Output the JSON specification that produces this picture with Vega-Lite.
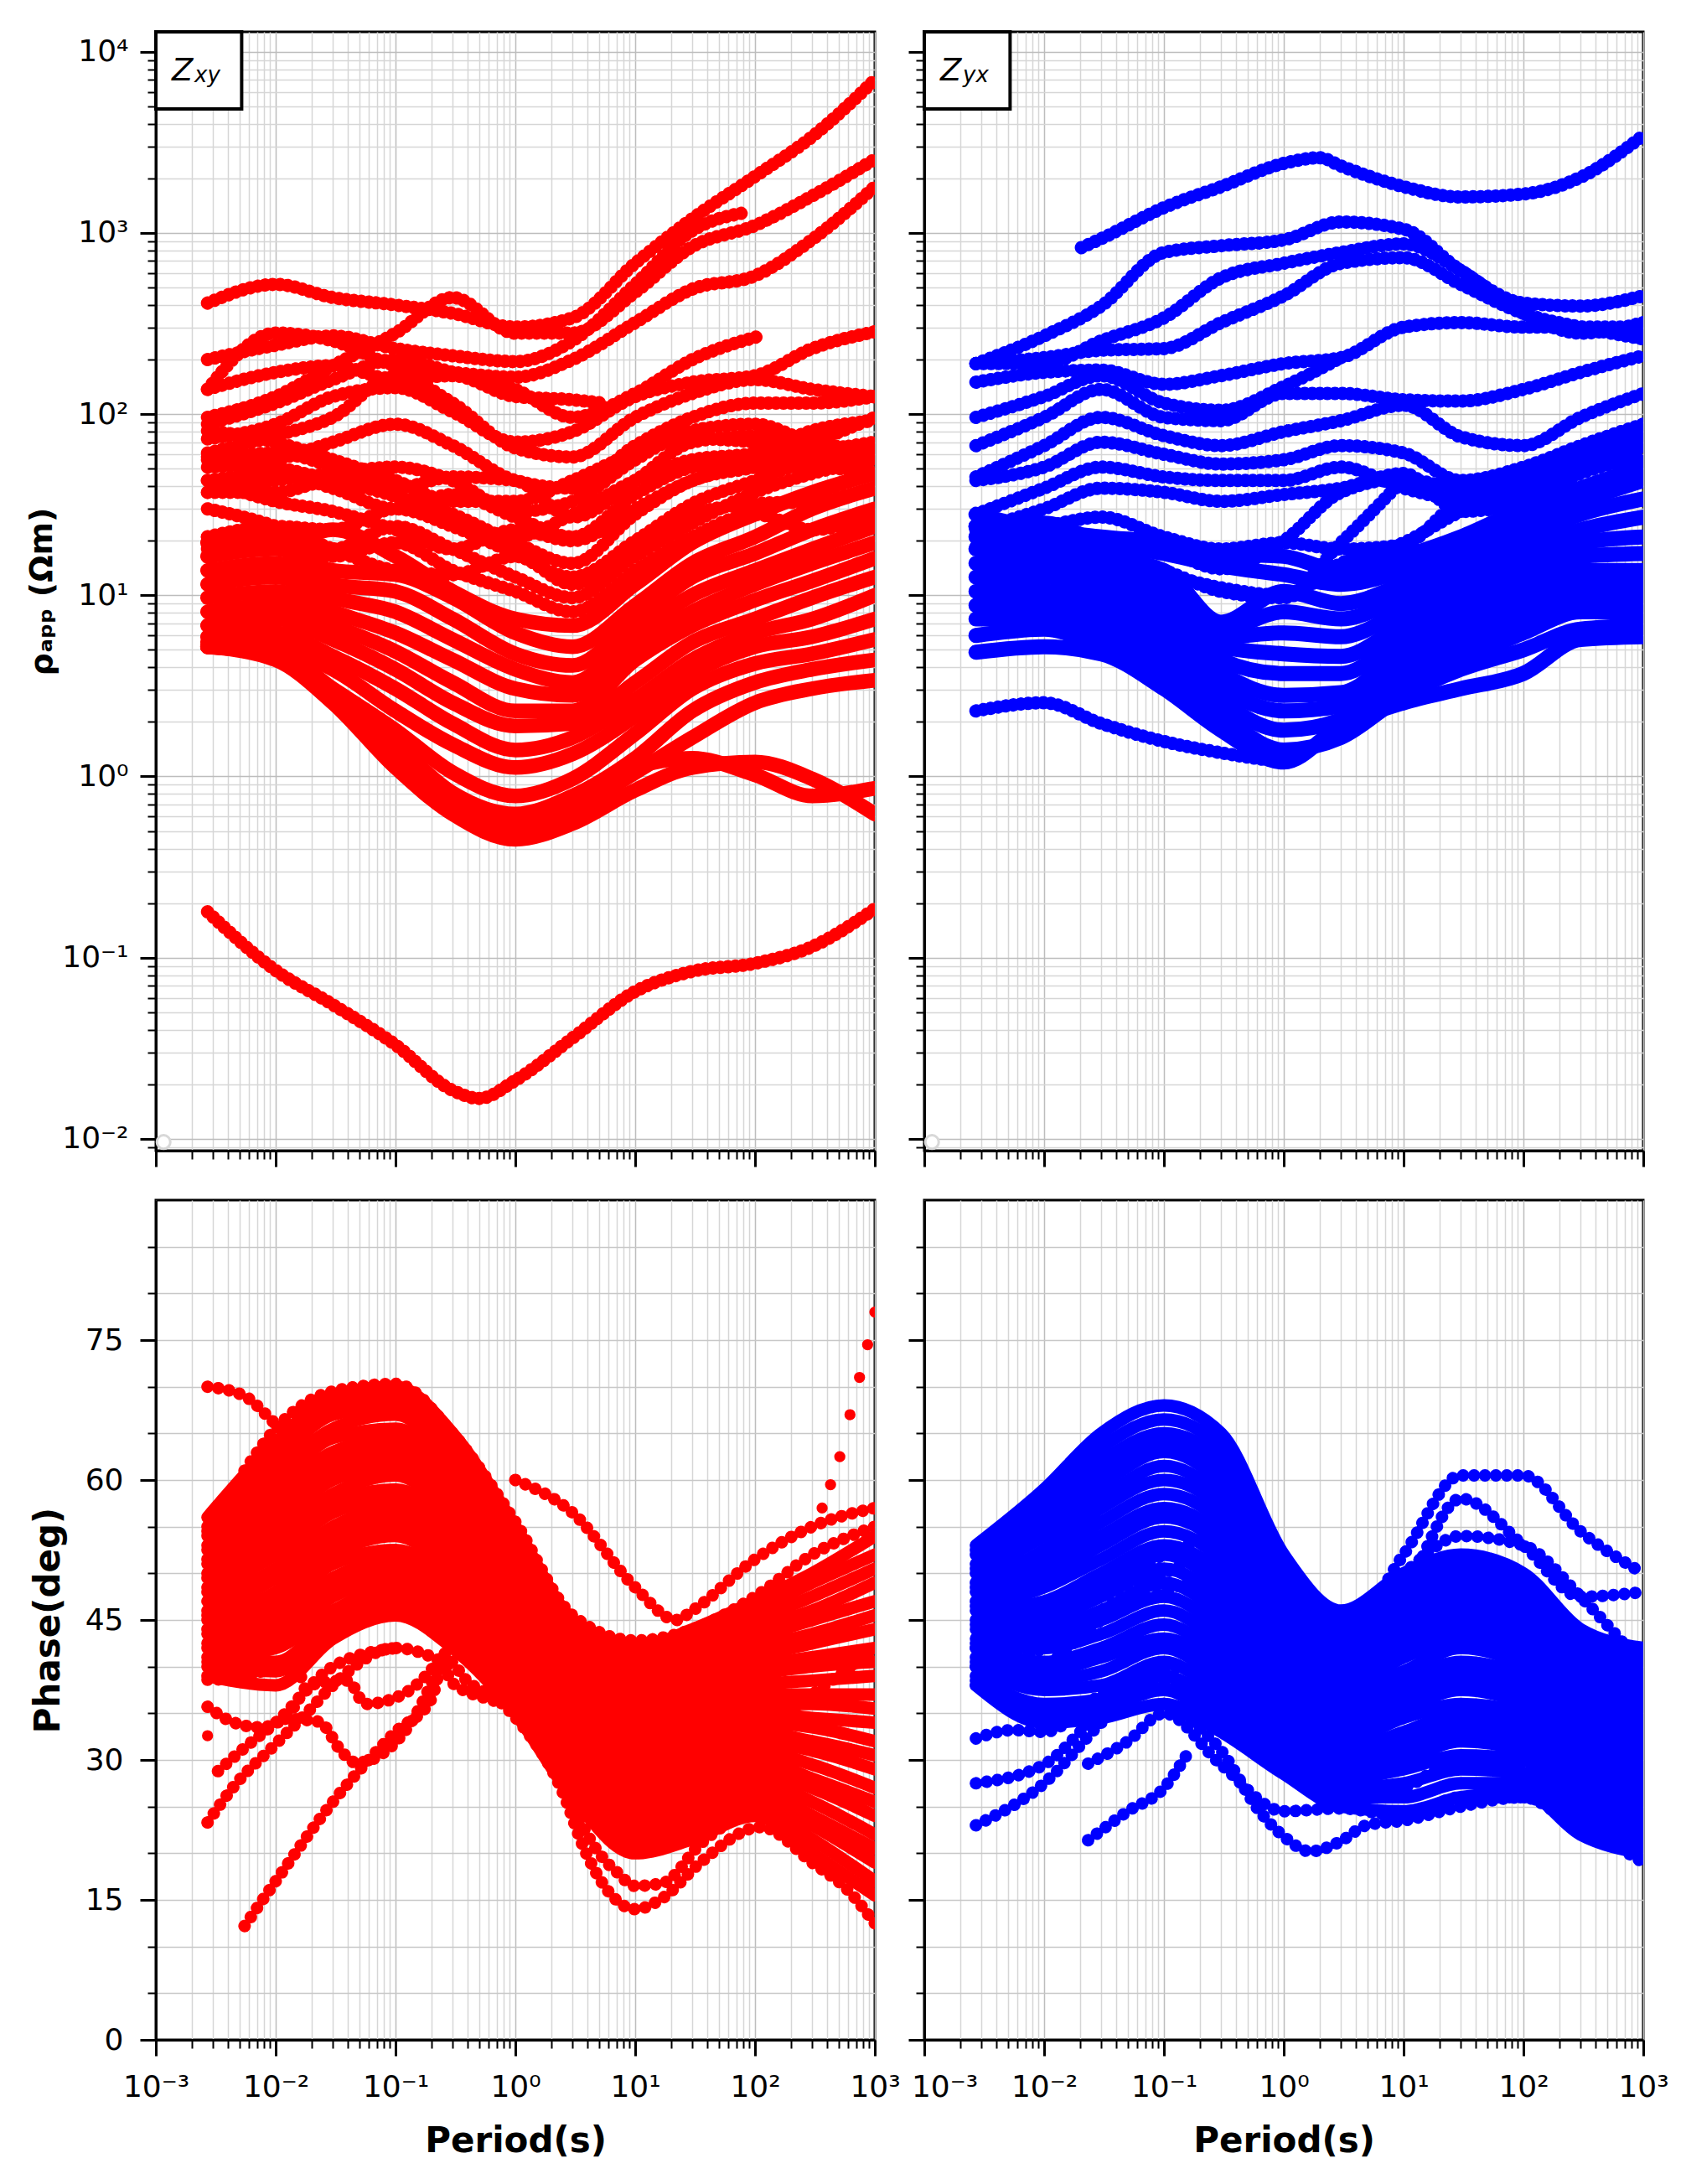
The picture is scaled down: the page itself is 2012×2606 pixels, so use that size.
{"$schema":"https://vega.github.io/schema/vega-lite/v6.json","background":"white","padding":{"left":30,"top":34,"right":0,"bottom":0},
"config":{"view":{"stroke":"black","strokeWidth":3},"axis":{"tickColor":"black","domainColor":"black","domainWidth":3,"labelFont":"DejaVu Sans","labelFontSize":36,"labelColor":"black","titleFont":"DejaVu Sans","titleFontSize":42,"titleFontWeight":"bold","titleColor":"black","labelOverlap":false,"labelFlush":false,"labelBound":false,"labelPadding":14}},
"datasets":{
"box":[{"t":0.001,"t2":0.0052,"v":4840,"v2":12880}],
"zxy":[{"t":0.00136,"v":6960,"label":"Z"}],"subxy":[{"t":0.0021,"v":6800,"label":"xy"}],"subyx":[{"t":0.0021,"v":6800,"label":"yx"}],
"art":[{"t":0.00116,"v":0.0096}],
"rhoXY":[
{"c":1,"t":0.0027,"v":410},{"c":1,"t":0.01,"v":520},{"c":1,"t":0.03,"v":440},{"c":1,"t":0.1,"v":400},{"c":1,"t":0.3,"v":360},{"c":1,"t":1,"v":302},{"c":1,"t":3,"v":340},{"c":1,"t":10,"v":680},{"c":1,"t":30,"v":1200},{"c":1,"t":100,"v":2050},{"c":1,"t":300,"v":3400},{"c":1,"t":1000,"v":7000},
{"c":2,"t":0.0027,"v":200},{"c":2,"t":0.01,"v":240},{"c":2,"t":0.03,"v":270},{"c":2,"t":0.1,"v":230},{"c":2,"t":0.3,"v":210},{"c":2,"t":1,"v":195},{"c":2,"t":3,"v":254},{"c":2,"t":10,"v":520},{"c":2,"t":30,"v":1030},{"c":2,"t":85,"v":1300},
{"c":3,"t":0.0027,"v":96},{"c":3,"t":0.01,"v":125},{"c":3,"t":0.03,"v":185},{"c":3,"t":0.1,"v":280},{"c":3,"t":0.3,"v":440},{"c":3,"t":1,"v":280},{"c":3,"t":3,"v":280},{"c":3,"t":10,"v":470},{"c":3,"t":30,"v":840},{"c":3,"t":100,"v":1100},{"c":3,"t":300,"v":1600},{"c":3,"t":1000,"v":2550},
{"c":4,"t":0.0027,"v":137},{"c":4,"t":0.01,"v":280},{"c":4,"t":0.03,"v":254},{"c":4,"t":0.1,"v":185},{"c":4,"t":0.3,"v":170},{"c":4,"t":1,"v":160},{"c":4,"t":3,"v":200},{"c":4,"t":10,"v":320},{"c":4,"t":30,"v":490},{"c":4,"t":100,"v":580},{"c":4,"t":300,"v":920},{"c":4,"t":1000,"v":1800},
{"c":5,"t":0.0027,"v":137},{"c":5,"t":0.01,"v":170},{"c":5,"t":0.03,"v":185},{"c":5,"t":0.1,"v":155},{"c":5,"t":0.3,"v":163},{"c":5,"t":1,"v":125},{"c":5,"t":3,"v":120},{"c":5,"t":5.4,"v":115},
{"c":6,"t":0.0027,"v":88},{"c":6,"t":0.01,"v":115},{"c":6,"t":0.03,"v":155},{"c":6,"t":0.1,"v":200},{"c":6,"t":0.3,"v":170},{"c":6,"t":1,"v":137},{"c":6,"t":3,"v":96},{"c":6,"t":10,"v":130},{"c":6,"t":30,"v":200},{"c":6,"t":110,"v":270},
{"c":7,"t":0.0027,"v":73},{"c":7,"t":0.01,"v":88},{"c":7,"t":0.03,"v":125},{"c":7,"t":0.1,"v":140},{"c":7,"t":0.3,"v":103},{"c":7,"t":1,"v":70},{"c":7,"t":3,"v":80},{"c":7,"t":10,"v":125},{"c":7,"t":30,"v":150},{"c":7,"t":100,"v":163},{"c":7,"t":300,"v":230},{"c":7,"t":1000,"v":285},
{"c":8,"t":0.0027,"v":61},{"c":8,"t":0.01,"v":76},{"c":8,"t":0.03,"v":96},{"c":8,"t":0.1,"v":163},{"c":8,"t":0.3,"v":115},{"c":8,"t":1,"v":65},{"c":8,"t":3,"v":58},{"c":8,"t":10,"v":96},{"c":8,"t":30,"v":130},{"c":8,"t":100,"v":155},{"c":8,"t":300,"v":137},{"c":8,"t":1000,"v":125},
{"c":9,"t":0.0027,"v":51},{"c":9,"t":0.01,"v":56},{"c":9,"t":0.03,"v":70},{"c":9,"t":0.1,"v":88},{"c":9,"t":0.3,"v":67},{"c":9,"t":1,"v":43},{"c":9,"t":3,"v":39},{"c":9,"t":10,"v":67},{"c":9,"t":30,"v":96},{"c":9,"t":100,"v":115},{"c":9,"t":300,"v":115},{"c":9,"t":1000,"v":125},
{"c":10,"t":0.0027,"v":37},{"c":10,"t":0.01,"v":43},{"c":10,"t":0.03,"v":47},{"c":10,"t":0.1,"v":51},{"c":10,"t":0.3,"v":43},{"c":10,"t":1,"v":29},{"c":10,"t":3,"v":33},{"c":10,"t":10,"v":56},{"c":10,"t":30,"v":81},{"c":10,"t":100,"v":88},{"c":10,"t":300,"v":70},{"c":10,"t":1000,"v":64},
{"c":11,"t":0.0027,"v":37},{"c":11,"t":0.01,"v":37},{"c":11,"t":0.03,"v":43},{"c":11,"t":0.1,"v":39},{"c":11,"t":0.3,"v":45},{"c":11,"t":1,"v":43},{"c":11,"t":3,"v":27},{"c":11,"t":10,"v":43},{"c":11,"t":30,"v":70},{"c":11,"t":100,"v":76},{"c":11,"t":300,"v":58},{"c":11,"t":1000,"v":47},
{"c":12,"t":0.0027,"v":43},{"c":12,"t":0.01,"v":47},{"c":12,"t":0.03,"v":39},{"c":12,"t":0.1,"v":30},{"c":12,"t":0.3,"v":36},{"c":12,"t":1,"v":27},{"c":12,"t":3,"v":21},{"c":12,"t":10,"v":36},{"c":12,"t":30,"v":51},{"c":12,"t":100,"v":56},{"c":12,"t":300,"v":70},{"c":12,"t":1000,"v":96},
{"c":13,"t":0.0027,"v":56},{"c":13,"t":0.01,"v":61},{"c":13,"t":0.03,"v":51},{"c":13,"t":0.1,"v":36},{"c":13,"t":0.3,"v":28},{"c":13,"t":1,"v":19.5},{"c":13,"t":3,"v":15},{"c":13,"t":10,"v":28},{"c":13,"t":30,"v":43},{"c":13,"t":100,"v":51},{"c":13,"t":300,"v":61},{"c":13,"t":1000,"v":70},
{"c":14,"t":0.0027,"v":21},{"c":14,"t":0.01,"v":24},{"c":14,"t":0.03,"v":23},{"c":14,"t":0.1,"v":30},{"c":14,"t":0.3,"v":24},{"c":14,"t":1,"v":17},{"c":14,"t":3,"v":12.6},{"c":14,"t":10,"v":20},{"c":14,"t":30,"v":32},{"c":14,"t":100,"v":43},{"c":14,"t":300,"v":56},{"c":14,"t":1000,"v":66},
{"c":15,"t":0.0027,"v":21},{"c":15,"t":0.01,"v":21},{"c":15,"t":0.03,"v":18},{"c":15,"t":0.1,"v":24},{"c":15,"t":0.3,"v":18},{"c":15,"t":1,"v":12.6},{"c":15,"t":3,"v":9.7},{"c":15,"t":10,"v":16.4},{"c":15,"t":30,"v":25},{"c":15,"t":100,"v":37},{"c":15,"t":300,"v":47},{"c":15,"t":1000,"v":56},
{"c":16,"t":0.0027,"v":19.5},{"c":16,"t":0.01,"v":18.5},{"c":16,"t":0.03,"v":23},{"c":16,"t":0.1,"v":16.4},{"c":16,"t":0.3,"v":10.5},{"c":16,"t":1,"v":7.4},{"c":16,"t":3,"v":6.8},{"c":16,"t":10,"v":11.5},{"c":16,"t":30,"v":19.5},{"c":16,"t":100,"v":28},{"c":16,"t":300,"v":37},{"c":16,"t":1000,"v":47},
{"c":17,"t":0.0027,"v":16.4},{"c":17,"t":0.01,"v":18},{"c":17,"t":0.03,"v":13.7},{"c":17,"t":0.1,"v":13},{"c":17,"t":0.3,"v":9.7},{"c":17,"t":1,"v":6.2},{"c":17,"t":3,"v":5.2},{"c":17,"t":10,"v":8.8},{"c":17,"t":30,"v":15},{"c":17,"t":100,"v":21},{"c":17,"t":300,"v":30},{"c":17,"t":1000,"v":39},
{"c":18,"t":0.0027,"v":13.7},{"c":18,"t":0.01,"v":15},{"c":18,"t":0.03,"v":11.5},{"c":18,"t":0.1,"v":10.5},{"c":18,"t":0.3,"v":7.4},{"c":18,"t":1,"v":4.75},{"c":18,"t":3,"v":4.1},{"c":18,"t":10,"v":7.4},{"c":18,"t":30,"v":12.6},{"c":18,"t":100,"v":17},{"c":18,"t":300,"v":23},{"c":18,"t":1000,"v":30},
{"c":19,"t":0.0027,"v":11.5},{"c":19,"t":0.01,"v":12.6},{"c":19,"t":0.03,"v":9.7},{"c":19,"t":0.1,"v":8.1},{"c":19,"t":0.3,"v":5.7},{"c":19,"t":1,"v":3.9},{"c":19,"t":3,"v":3.3},{"c":19,"t":10,"v":6.2},{"c":19,"t":30,"v":10},{"c":19,"t":100,"v":13.7},{"c":19,"t":300,"v":18},{"c":19,"t":1000,"v":24},
{"c":20,"t":0.0027,"v":9.7},{"c":20,"t":0.01,"v":10.5},{"c":20,"t":0.03,"v":8.1},{"c":20,"t":0.1,"v":6.2},{"c":20,"t":0.3,"v":4.4},{"c":20,"t":1,"v":3.05},{"c":20,"t":3,"v":2.8},{"c":20,"t":10,"v":5.2},{"c":20,"t":30,"v":8.1},{"c":20,"t":100,"v":11.5},{"c":20,"t":300,"v":15},{"c":20,"t":1000,"v":19.5},
{"c":21,"t":0.0027,"v":8.1},{"c":21,"t":0.01,"v":8.8},{"c":21,"t":0.03,"v":6.8},{"c":21,"t":0.1,"v":4.9},{"c":21,"t":0.3,"v":3.3},{"c":21,"t":1,"v":2.3},{"c":21,"t":3,"v":2.3},{"c":21,"t":10,"v":4.4},{"c":21,"t":30,"v":6.8},{"c":21,"t":100,"v":9.4},{"c":21,"t":300,"v":12},{"c":21,"t":1000,"v":16},
{"c":22,"t":0.0027,"v":6.8},{"c":22,"t":0.01,"v":7.4},{"c":22,"t":0.03,"v":5.7},{"c":22,"t":0.1,"v":3.9},{"c":22,"t":0.3,"v":2.55},{"c":22,"t":1,"v":1.9},{"c":22,"t":3,"v":1.96},{"c":22,"t":10,"v":3.3},{"c":22,"t":30,"v":5.5},{"c":22,"t":100,"v":7.4},{"c":22,"t":300,"v":9.7},{"c":22,"t":1000,"v":12.6},
{"c":23,"t":0.0027,"v":5.9},{"c":23,"t":0.01,"v":6.2},{"c":23,"t":0.03,"v":4.6},{"c":23,"t":0.1,"v":3.05},{"c":23,"t":0.3,"v":1.96},{"c":23,"t":1,"v":1.4},{"c":23,"t":3,"v":1.64},{"c":23,"t":10,"v":2.65},{"c":23,"t":30,"v":4.4},{"c":23,"t":100,"v":6.2},{"c":23,"t":300,"v":7.4},{"c":23,"t":1000,"v":10},
{"c":24,"t":0.0027,"v":5.2},{"c":24,"t":0.01,"v":5.2},{"c":24,"t":0.03,"v":3.9},{"c":24,"t":0.1,"v":2.3},{"c":24,"t":0.3,"v":1.5},{"c":24,"t":1,"v":1.12},{"c":24,"t":3,"v":1.33},{"c":24,"t":10,"v":2.15},{"c":24,"t":30,"v":3.7},{"c":24,"t":100,"v":5.2},{"c":24,"t":300,"v":5.9},{"c":24,"t":1000,"v":7.4},
{"c":25,"t":0.0027,"v":5.2},{"c":25,"t":0.01,"v":4.9},{"c":25,"t":0.03,"v":3.05},{"c":25,"t":0.1,"v":1.8},{"c":25,"t":0.3,"v":1.05},{"c":25,"t":1,"v":0.78},{"c":25,"t":3,"v":0.97},{"c":25,"t":10,"v":1.72},{"c":25,"t":30,"v":3.05},{"c":25,"t":100,"v":4.2},{"c":25,"t":300,"v":4.75},{"c":25,"t":1000,"v":5.7},
{"c":26,"t":0.0027,"v":5.5},{"c":26,"t":0.01,"v":4.75},{"c":26,"t":0.03,"v":2.8},{"c":26,"t":0.1,"v":1.5},{"c":26,"t":0.3,"v":0.81},{"c":26,"t":1,"v":0.62},{"c":26,"t":3,"v":0.78},{"c":26,"t":10,"v":1.26},{"c":26,"t":30,"v":2.3},{"c":26,"t":100,"v":3.3},{"c":26,"t":300,"v":3.9},{"c":26,"t":1000,"v":4.4},
{"c":27,"t":0.0027,"v":5.2},{"c":27,"t":0.01,"v":4.6},{"c":27,"t":0.03,"v":2.65},{"c":27,"t":0.1,"v":1.26},{"c":27,"t":0.3,"v":0.7},{"c":27,"t":1,"v":0.55},{"c":27,"t":3,"v":0.66},{"c":27,"t":10,"v":1.05},{"c":27,"t":30,"v":1.64},{"c":27,"t":100,"v":2.55},{"c":27,"t":300,"v":3.05},{"c":27,"t":1000,"v":3.4},
{"c":28,"t":0.0027,"v":5.2},{"c":28,"t":0.01,"v":4.4},{"c":28,"t":0.03,"v":2.55},{"c":28,"t":0.1,"v":1.12},{"c":28,"t":0.3,"v":0.62},{"c":28,"t":1,"v":0.45},{"c":28,"t":3,"v":0.55},{"c":28,"t":10,"v":0.84},{"c":28,"t":30,"v":1.12},{"c":28,"t":100,"v":1.2},{"c":28,"t":300,"v":0.97},{"c":28,"t":1000,"v":0.62},
{"c":29,"t":0.0027,"v":5.2},{"c":29,"t":0.01,"v":4.6},{"c":29,"t":0.03,"v":2.8},{"c":29,"t":0.1,"v":1.26},{"c":29,"t":0.3,"v":0.7},{"c":29,"t":1,"v":0.52},{"c":29,"t":3,"v":0.62},{"c":29,"t":10,"v":1.12},{"c":29,"t":30,"v":1.26},{"c":29,"t":100,"v":1.02},{"c":29,"t":300,"v":0.78},{"c":29,"t":1000,"v":0.86},
{"c":30,"t":0.0027,"v":0.179},{"c":30,"t":0.01,"v":0.085},{"c":30,"t":0.03,"v":0.055},{"c":30,"t":0.1,"v":0.033},{"c":30,"t":0.3,"v":0.0185},{"c":30,"t":0.5,"v":0.0167},{"c":30,"t":1,"v":0.021},{"c":30,"t":3,"v":0.036},{"c":30,"t":10,"v":0.065},{"c":30,"t":30,"v":0.084},{"c":30,"t":100,"v":0.093},{"c":30,"t":300,"v":0.115},{"c":30,"t":1000,"v":0.186},
{"c":31,"t":0.0027,"v":81},{"c":31,"t":0.01,"v":70},{"c":31,"t":0.03,"v":56},{"c":31,"t":0.1,"v":43},{"c":31,"t":0.3,"v":33},{"c":31,"t":1,"v":33},{"c":31,"t":3,"v":43},{"c":31,"t":10,"v":61},{"c":31,"t":30,"v":73},{"c":31,"t":100,"v":70},{"c":31,"t":300,"v":61},{"c":31,"t":1000,"v":56},
{"c":32,"t":0.0027,"v":58},{"c":32,"t":0.01,"v":51},{"c":32,"t":0.03,"v":43},{"c":32,"t":0.1,"v":35},{"c":32,"t":0.3,"v":25},{"c":32,"t":1,"v":21},{"c":32,"t":3,"v":28},{"c":32,"t":10,"v":43},{"c":32,"t":30,"v":56},{"c":32,"t":100,"v":61},{"c":32,"t":300,"v":81},{"c":32,"t":1000,"v":92},
{"c":33,"t":0.0027,"v":43},{"c":33,"t":0.01,"v":33},{"c":33,"t":0.03,"v":29},{"c":33,"t":0.1,"v":23},{"c":33,"t":0.3,"v":18},{"c":33,"t":1,"v":23},{"c":33,"t":3,"v":20},{"c":33,"t":10,"v":30},{"c":33,"t":30,"v":43},{"c":33,"t":100,"v":51},{"c":33,"t":300,"v":51},{"c":33,"t":1000,"v":47},
{"c":34,"t":0.0027,"v":30},{"c":34,"t":0.01,"v":24},{"c":34,"t":0.03,"v":18},{"c":34,"t":0.1,"v":13.7},{"c":34,"t":0.3,"v":13},{"c":34,"t":1,"v":16.4},{"c":34,"t":3,"v":11.5},{"c":34,"t":10,"v":18},{"c":34,"t":30,"v":28},{"c":34,"t":100,"v":32},{"c":34,"t":300,"v":33},{"c":34,"t":1000,"v":39},
{"c":35,"t":0.0027,"v":18},{"c":35,"t":0.01,"v":20},{"c":35,"t":0.03,"v":16.4},{"c":35,"t":0.1,"v":19.5},{"c":35,"t":0.3,"v":13.7},{"c":35,"t":1,"v":10.5},{"c":35,"t":3,"v":8.1},{"c":35,"t":10,"v":13.7},{"c":35,"t":30,"v":21},{"c":35,"t":100,"v":28},{"c":35,"t":300,"v":23},{"c":35,"t":1000,"v":28}
],
"rhoYX":[
{"c":1,"t":0.0205,"v":830},{"c":1,"t":0.03,"v":930},{"c":1,"t":0.1,"v":1380},{"c":1,"t":0.3,"v":1800},{"c":1,"t":1,"v":2420},{"c":1,"t":2,"v":2600},{"c":1,"t":3,"v":2340},{"c":1,"t":10,"v":1800},{"c":1,"t":30,"v":1580},{"c":1,"t":100,"v":1640},{"c":1,"t":300,"v":2030},{"c":1,"t":1000,"v":3450},
{"c":2,"t":0.0027,"v":190},{"c":2,"t":0.01,"v":270},{"c":2,"t":0.03,"v":395},{"c":2,"t":0.1,"v":780},{"c":2,"t":0.3,"v":850},{"c":2,"t":1,"v":915},{"c":2,"t":3,"v":1150},{"c":2,"t":10,"v":1050},{"c":2,"t":30,"v":620},{"c":2,"t":100,"v":410},{"c":2,"t":300,"v":395},{"c":2,"t":1000,"v":450},
{"c":3,"t":0.0027,"v":190},{"c":3,"t":0.01,"v":190},{"c":3,"t":0.03,"v":254},{"c":3,"t":0.1,"v":340},{"c":3,"t":0.3,"v":565},{"c":3,"t":1,"v":680},{"c":3,"t":3,"v":780},{"c":3,"t":10,"v":870},{"c":3,"t":30,"v":620},{"c":3,"t":100,"v":360},{"c":3,"t":300,"v":280},{"c":3,"t":1000,"v":320},
{"c":4,"t":0.0027,"v":190},{"c":4,"t":0.01,"v":205},{"c":4,"t":0.03,"v":225},{"c":4,"t":0.1,"v":230},{"c":4,"t":0.3,"v":320},{"c":4,"t":1,"v":450},{"c":4,"t":3,"v":680},{"c":4,"t":10,"v":730},{"c":4,"t":30,"v":520},{"c":4,"t":100,"v":360},{"c":4,"t":300,"v":302},{"c":4,"t":1000,"v":260},
{"c":5,"t":0.0027,"v":150},{"c":5,"t":0.01,"v":170},{"c":5,"t":0.03,"v":175},{"c":5,"t":0.1,"v":146},{"c":5,"t":0.3,"v":163},{"c":5,"t":1,"v":190},{"c":5,"t":3,"v":205},{"c":5,"t":10,"v":302},{"c":5,"t":30,"v":320},{"c":5,"t":100,"v":302},{"c":5,"t":300,"v":302},{"c":5,"t":1000,"v":302},
{"c":6,"t":0.0027,"v":96},{"c":6,"t":0.01,"v":125},{"c":6,"t":0.03,"v":163},{"c":6,"t":0.1,"v":115},{"c":6,"t":0.3,"v":105},{"c":6,"t":1,"v":142},{"c":6,"t":3,"v":205},
{"c":7,"t":0.0027,"v":67},{"c":7,"t":0.01,"v":96},{"c":7,"t":0.03,"v":137},{"c":7,"t":0.1,"v":96},{"c":7,"t":0.3,"v":92},{"c":7,"t":1,"v":130},{"c":7,"t":3,"v":130},{"c":7,"t":10,"v":120},{"c":7,"t":30,"v":118},{"c":7,"t":100,"v":137},{"c":7,"t":300,"v":170},{"c":7,"t":1000,"v":210},
{"c":8,"t":0.0027,"v":45},{"c":8,"t":0.01,"v":67},{"c":8,"t":0.03,"v":96},{"c":8,"t":0.1,"v":76},{"c":8,"t":0.3,"v":67},{"c":8,"t":1,"v":80},{"c":8,"t":3,"v":92},{"c":8,"t":10,"v":112},{"c":8,"t":30,"v":75},{"c":8,"t":100,"v":67},{"c":8,"t":300,"v":96},{"c":8,"t":1000,"v":130},
{"c":9,"t":0.0027,"v":43},{"c":9,"t":0.01,"v":51},{"c":9,"t":0.03,"v":70},{"c":9,"t":0.1,"v":60},{"c":9,"t":0.3,"v":53},{"c":9,"t":1,"v":56},{"c":9,"t":3,"v":67},{"c":9,"t":10,"v":61},{"c":9,"t":30,"v":43},{"c":9,"t":100,"v":51},{"c":9,"t":300,"v":67},{"c":9,"t":1000,"v":88},
{"c":10,"t":0.0027,"v":28},{"c":10,"t":0.01,"v":39},{"c":10,"t":0.03,"v":51},{"c":10,"t":0.1,"v":45},{"c":10,"t":0.3,"v":43},{"c":10,"t":1,"v":43},{"c":10,"t":3,"v":51},{"c":10,"t":10,"v":39},{"c":10,"t":30,"v":34},{"c":10,"t":100,"v":47},{"c":10,"t":300,"v":61},{"c":10,"t":1000,"v":73},
{"c":11,"t":0.0027,"v":23},{"c":11,"t":0.01,"v":30},{"c":11,"t":0.03,"v":39},{"c":11,"t":0.1,"v":37},{"c":11,"t":0.3,"v":33},{"c":11,"t":1,"v":36},{"c":11,"t":3,"v":39},{"c":11,"t":10,"v":47},{"c":11,"t":30,"v":29},{"c":11,"t":100,"v":33},{"c":11,"t":300,"v":47},{"c":11,"t":1000,"v":58},
{"c":12,"t":0.0027,"v":21},{"c":12,"t":0.01,"v":24},{"c":12,"t":0.03,"v":27},{"c":12,"t":0.1,"v":21},{"c":12,"t":0.3,"v":18},{"c":12,"t":1,"v":19.5},{"c":12,"t":3,"v":18},{"c":12,"t":10,"v":19},{"c":12,"t":30,"v":32},{"c":12,"t":100,"v":34},{"c":12,"t":300,"v":51},{"c":12,"t":1000,"v":65},
{"c":13,"t":0.0027,"v":23},{"c":13,"t":0.01,"v":21},{"c":13,"t":0.03,"v":21},{"c":13,"t":0.1,"v":18},{"c":13,"t":0.3,"v":14},{"c":13,"t":1,"v":20},{"c":13,"t":3,"v":37},{"c":13,"t":10,"v":44},{"c":13,"t":30,"v":39},{"c":13,"t":100,"v":43},{"c":13,"t":300,"v":56},{"c":13,"t":1000,"v":81},
{"c":14,"t":0.0027,"v":18},{"c":14,"t":0.01,"v":17},{"c":14,"t":0.03,"v":15},{"c":14,"t":0.1,"v":13},{"c":14,"t":0.3,"v":11},{"c":14,"t":1,"v":10},{"c":14,"t":3,"v":19.5},{"c":14,"t":8.8,"v":40},
{"c":15,"t":0.0027,"v":18.5},{"c":15,"t":0.01,"v":18},{"c":15,"t":0.03,"v":16.4},{"c":15,"t":0.1,"v":13.7},{"c":15,"t":0.3,"v":10.5},{"c":15,"t":1,"v":9.7},{"c":15,"t":3,"v":15},{"c":15,"t":10,"v":19.5},{"c":15,"t":30,"v":29},{"c":15,"t":100,"v":39},{"c":15,"t":300,"v":53},{"c":15,"t":1000,"v":70},
{"c":16,"t":0.0027,"v":28},{"c":16,"t":0.01,"v":23},{"c":16,"t":0.03,"v":21},{"c":16,"t":0.1,"v":19.5},{"c":16,"t":0.3,"v":17},{"c":16,"t":1,"v":16.4},{"c":16,"t":3,"v":13.7},{"c":16,"t":10,"v":16.4},{"c":16,"t":30,"v":21},{"c":16,"t":100,"v":30},{"c":16,"t":300,"v":39},{"c":16,"t":1000,"v":51},
{"c":17,"t":0.0027,"v":24},{"c":17,"t":0.01,"v":25},{"c":17,"t":0.03,"v":19.5},{"c":17,"t":0.1,"v":17},{"c":17,"t":0.3,"v":14.5},{"c":17,"t":1,"v":13},{"c":17,"t":3,"v":11.5},{"c":17,"t":10,"v":13.7},{"c":17,"t":30,"v":18},{"c":17,"t":100,"v":25},{"c":17,"t":300,"v":33},{"c":17,"t":1000,"v":43},
{"c":18,"t":0.0027,"v":24},{"c":18,"t":0.01,"v":21},{"c":18,"t":0.03,"v":16.4},{"c":18,"t":0.1,"v":13.7},{"c":18,"t":0.3,"v":7.1},{"c":18,"t":1,"v":10.5},{"c":18,"t":3,"v":9},{"c":18,"t":10,"v":11.5},{"c":18,"t":30,"v":15},{"c":18,"t":100,"v":21},{"c":18,"t":300,"v":28},{"c":18,"t":1000,"v":34},
{"c":19,"t":0.0027,"v":21},{"c":19,"t":0.01,"v":19.5},{"c":19,"t":0.03,"v":15},{"c":19,"t":0.1,"v":11.5},{"c":19,"t":0.3,"v":6.5},{"c":19,"t":1,"v":8.1},{"c":19,"t":3,"v":7.4},{"c":19,"t":10,"v":9.7},{"c":19,"t":30,"v":12.6},{"c":19,"t":100,"v":18},{"c":19,"t":300,"v":23},{"c":19,"t":1000,"v":27},
{"c":20,"t":0.0027,"v":18},{"c":20,"t":0.01,"v":16.4},{"c":20,"t":0.03,"v":13.7},{"c":20,"t":0.1,"v":9.7},{"c":20,"t":0.3,"v":5.9},{"c":20,"t":1,"v":6.2},{"c":20,"t":3,"v":5.9},{"c":20,"t":10,"v":8.1},{"c":20,"t":30,"v":10.5},{"c":20,"t":100,"v":15},{"c":20,"t":300,"v":19.5},{"c":20,"t":1000,"v":21},
{"c":21,"t":0.0027,"v":15},{"c":21,"t":0.01,"v":14},{"c":21,"t":0.03,"v":12},{"c":21,"t":0.1,"v":8.1},{"c":21,"t":0.3,"v":5.2},{"c":21,"t":1,"v":4.75},{"c":21,"t":3,"v":4.6},{"c":21,"t":10,"v":6.8},{"c":21,"t":30,"v":8.8},{"c":21,"t":100,"v":12.6},{"c":21,"t":300,"v":16.4},{"c":21,"t":1000,"v":17},
{"c":22,"t":0.0027,"v":12.6},{"c":22,"t":0.01,"v":12.6},{"c":22,"t":0.03,"v":10.5},{"c":22,"t":0.1,"v":7.1},{"c":22,"t":0.3,"v":4.4},{"c":22,"t":1,"v":3.7},{"c":22,"t":3,"v":3.7},{"c":22,"t":10,"v":5.7},{"c":22,"t":30,"v":7.4},{"c":22,"t":100,"v":10.5},{"c":22,"t":300,"v":13.7},{"c":22,"t":1000,"v":13.7},
{"c":23,"t":0.0027,"v":10.5},{"c":23,"t":0.01,"v":10.5},{"c":23,"t":0.03,"v":8.8},{"c":23,"t":0.1,"v":6.2},{"c":23,"t":0.3,"v":3.7},{"c":23,"t":1,"v":2.8},{"c":23,"t":3,"v":2.9},{"c":23,"t":10,"v":4.75},{"c":23,"t":30,"v":6.2},{"c":23,"t":100,"v":8.8},{"c":23,"t":300,"v":11.5},{"c":23,"t":1000,"v":11.5},
{"c":24,"t":0.0027,"v":8.8},{"c":24,"t":0.01,"v":8.8},{"c":24,"t":0.03,"v":7.4},{"c":24,"t":0.1,"v":5.2},{"c":24,"t":0.3,"v":3.05},{"c":24,"t":1,"v":2.3},{"c":24,"t":3,"v":2.45},{"c":24,"t":10,"v":4},{"c":24,"t":30,"v":5.2},{"c":24,"t":100,"v":7.4},{"c":24,"t":300,"v":9.7},{"c":24,"t":1000,"v":9.7},
{"c":25,"t":0.0027,"v":7.4},{"c":25,"t":0.01,"v":7.4},{"c":25,"t":0.03,"v":6.2},{"c":25,"t":0.1,"v":4.4},{"c":25,"t":0.3,"v":2.55},{"c":25,"t":1,"v":1.8},{"c":25,"t":3,"v":2.05},{"c":25,"t":10,"v":3.3},{"c":25,"t":30,"v":4.4},{"c":25,"t":100,"v":6.2},{"c":25,"t":300,"v":8.1},{"c":25,"t":1000,"v":8.1},
{"c":26,"t":0.0027,"v":6},{"c":26,"t":0.01,"v":6.5},{"c":26,"t":0.03,"v":5.2},{"c":26,"t":0.1,"v":3.7},{"c":26,"t":0.3,"v":2.15},{"c":26,"t":1,"v":1.4},{"c":26,"t":3,"v":1.64},{"c":26,"t":10,"v":2.8},{"c":26,"t":30,"v":3.9},{"c":26,"t":100,"v":5},{"c":26,"t":300,"v":6.5},{"c":26,"t":1000,"v":6.8},
{"c":27,"t":0.0027,"v":4.85},{"c":27,"t":0.01,"v":5.2},{"c":27,"t":0.03,"v":4.75},{"c":27,"t":0.1,"v":3.05},{"c":27,"t":0.3,"v":1.8},{"c":27,"t":1,"v":1.2},{"c":27,"t":3,"v":1.9},{"c":27,"t":10,"v":2.55},{"c":27,"t":30,"v":3.05},{"c":27,"t":100,"v":3.7},{"c":27,"t":300,"v":5.7},{"c":27,"t":1000,"v":5.9},
{"c":28,"t":0.0027,"v":2.3},{"c":28,"t":0.01,"v":2.55},{"c":28,"t":0.03,"v":1.96},{"c":28,"t":0.1,"v":1.56},{"c":28,"t":0.3,"v":1.35},{"c":28,"t":1,"v":1.2}
],
"phaseXY":[
{"c":1,"t":0.0027,"v":56},{"c":1,"t":0.01,"v":64},{"c":1,"t":0.03,"v":69},{"c":1,"t":0.1,"v":70},{"c":1,"t":0.3,"v":65},{"c":1,"t":1,"v":55},{"c":1,"t":3,"v":45},{"c":1,"t":10,"v":42},{"c":1,"t":30,"v":44},{"c":1,"t":100,"v":47},{"c":1,"t":300,"v":50},{"c":1,"t":1000,"v":54},
{"c":2,"t":0.0027,"v":55},{"c":2,"t":0.01,"v":63},{"c":2,"t":0.03,"v":68},{"c":2,"t":0.1,"v":69},{"c":2,"t":0.3,"v":64},{"c":2,"t":1,"v":54},{"c":2,"t":3,"v":44},{"c":2,"t":10,"v":41},{"c":2,"t":30,"v":43},{"c":2,"t":100,"v":46},{"c":2,"t":300,"v":49},{"c":2,"t":1000,"v":52},
{"c":3,"t":0.0027,"v":54.5},{"c":3,"t":0.01,"v":62},{"c":3,"t":0.03,"v":67},{"c":3,"t":0.1,"v":68},{"c":3,"t":0.3,"v":63},{"c":3,"t":1,"v":53},{"c":3,"t":3,"v":43.5},{"c":3,"t":10,"v":40},{"c":3,"t":30,"v":42},{"c":3,"t":100,"v":45},{"c":3,"t":300,"v":47.5},{"c":3,"t":1000,"v":50.5},
{"c":4,"t":0.0027,"v":54},{"c":4,"t":0.01,"v":60.5},{"c":4,"t":0.03,"v":65.5},{"c":4,"t":0.1,"v":67},{"c":4,"t":0.3,"v":62},{"c":4,"t":1,"v":52.5},{"c":4,"t":3,"v":42.5},{"c":4,"t":10,"v":39},{"c":4,"t":30,"v":41},{"c":4,"t":100,"v":44},{"c":4,"t":300,"v":46},{"c":4,"t":1000,"v":49},
{"c":5,"t":0.0027,"v":53},{"c":5,"t":0.01,"v":59.5},{"c":5,"t":0.03,"v":64.5},{"c":5,"t":0.1,"v":65.5},{"c":5,"t":0.3,"v":61},{"c":5,"t":1,"v":51.5},{"c":5,"t":3,"v":41.5},{"c":5,"t":10,"v":38},{"c":5,"t":30,"v":40},{"c":5,"t":100,"v":43},{"c":5,"t":300,"v":45},{"c":5,"t":1000,"v":47},
{"c":6,"t":0.0027,"v":52.5},{"c":6,"t":0.01,"v":58.5},{"c":6,"t":0.03,"v":63},{"c":6,"t":0.1,"v":64.5},{"c":6,"t":0.3,"v":60},{"c":6,"t":1,"v":50.5},{"c":6,"t":3,"v":41},{"c":6,"t":10,"v":37},{"c":6,"t":30,"v":39},{"c":6,"t":100,"v":42},{"c":6,"t":300,"v":43.5},{"c":6,"t":1000,"v":45.5},
{"c":7,"t":0.0027,"v":51.5},{"c":7,"t":0.01,"v":57},{"c":7,"t":0.03,"v":62},{"c":7,"t":0.1,"v":63.5},{"c":7,"t":0.3,"v":59},{"c":7,"t":1,"v":49.5},{"c":7,"t":3,"v":40},{"c":7,"t":10,"v":36},{"c":7,"t":30,"v":38},{"c":7,"t":100,"v":41},{"c":7,"t":300,"v":42.5},{"c":7,"t":1000,"v":44},
{"c":8,"t":0.0027,"v":51},{"c":8,"t":0.01,"v":56},{"c":8,"t":0.03,"v":61},{"c":8,"t":0.1,"v":62.5},{"c":8,"t":0.3,"v":58},{"c":8,"t":1,"v":49},{"c":8,"t":3,"v":39},{"c":8,"t":10,"v":35},{"c":8,"t":30,"v":37},{"c":8,"t":100,"v":40},{"c":8,"t":300,"v":41},{"c":8,"t":1000,"v":42},
{"c":9,"t":0.0027,"v":50},{"c":9,"t":0.01,"v":55},{"c":9,"t":0.03,"v":60},{"c":9,"t":0.1,"v":61.5},{"c":9,"t":0.3,"v":57},{"c":9,"t":1,"v":48},{"c":9,"t":3,"v":38},{"c":9,"t":10,"v":34},{"c":9,"t":30,"v":36},{"c":9,"t":100,"v":39},{"c":9,"t":300,"v":40},{"c":9,"t":1000,"v":40.5},
{"c":10,"t":0.0027,"v":49.5},{"c":10,"t":0.01,"v":54},{"c":10,"t":0.03,"v":58.5},{"c":10,"t":0.1,"v":60.5},{"c":10,"t":0.3,"v":56},{"c":10,"t":1,"v":47},{"c":10,"t":3,"v":37.5},{"c":10,"t":10,"v":33},{"c":10,"t":30,"v":35},{"c":10,"t":100,"v":38},{"c":10,"t":300,"v":38.5},{"c":10,"t":1000,"v":39},
{"c":11,"t":0.0027,"v":48.5},{"c":11,"t":0.01,"v":53},{"c":11,"t":0.03,"v":57.5},{"c":11,"t":0.1,"v":59},{"c":11,"t":0.3,"v":55},{"c":11,"t":1,"v":46},{"c":11,"t":3,"v":36.5},{"c":11,"t":10,"v":32},{"c":11,"t":30,"v":34},{"c":11,"t":100,"v":37},{"c":11,"t":300,"v":37},{"c":11,"t":1000,"v":37},
{"c":12,"t":0.0027,"v":48},{"c":12,"t":0.01,"v":52},{"c":12,"t":0.03,"v":56.5},{"c":12,"t":0.1,"v":58},{"c":12,"t":0.3,"v":54},{"c":12,"t":1,"v":45},{"c":12,"t":3,"v":36},{"c":12,"t":10,"v":31},{"c":12,"t":30,"v":33},{"c":12,"t":100,"v":36},{"c":12,"t":300,"v":36},{"c":12,"t":1000,"v":35.5},
{"c":13,"t":0.0027,"v":47},{"c":13,"t":0.01,"v":50.5},{"c":13,"t":0.03,"v":55},{"c":13,"t":0.1,"v":57},{"c":13,"t":0.3,"v":53},{"c":13,"t":1,"v":44.5},{"c":13,"t":3,"v":35},{"c":13,"t":10,"v":30},{"c":13,"t":30,"v":32},{"c":13,"t":100,"v":35},{"c":13,"t":300,"v":34.5},{"c":13,"t":1000,"v":34},
{"c":14,"t":0.0027,"v":46},{"c":14,"t":0.01,"v":49.5},{"c":14,"t":0.03,"v":54},{"c":14,"t":0.1,"v":56},{"c":14,"t":0.3,"v":52},{"c":14,"t":1,"v":43.5},{"c":14,"t":3,"v":34},{"c":14,"t":10,"v":29},{"c":14,"t":30,"v":31},{"c":14,"t":100,"v":34},{"c":14,"t":300,"v":33.5},{"c":14,"t":1000,"v":32},
{"c":15,"t":0.0027,"v":45.5},{"c":15,"t":0.01,"v":48},{"c":15,"t":0.03,"v":53},{"c":15,"t":0.1,"v":55},{"c":15,"t":0.3,"v":51},{"c":15,"t":1,"v":42.5},{"c":15,"t":3,"v":33},{"c":15,"t":10,"v":28},{"c":15,"t":30,"v":30},{"c":15,"t":100,"v":33},{"c":15,"t":300,"v":32},{"c":15,"t":1000,"v":30.5},
{"c":16,"t":0.0027,"v":45},{"c":16,"t":0.01,"v":47},{"c":16,"t":0.03,"v":52},{"c":16,"t":0.1,"v":54},{"c":16,"t":0.3,"v":50},{"c":16,"t":1,"v":42},{"c":16,"t":3,"v":32.5},{"c":16,"t":10,"v":27},{"c":16,"t":30,"v":29},{"c":16,"t":100,"v":32},{"c":16,"t":300,"v":31},{"c":16,"t":1000,"v":29},
{"c":17,"t":0.0027,"v":44},{"c":17,"t":0.01,"v":46},{"c":17,"t":0.03,"v":51},{"c":17,"t":0.1,"v":52.5},{"c":17,"t":0.3,"v":49},{"c":17,"t":1,"v":41},{"c":17,"t":3,"v":31.5},{"c":17,"t":10,"v":26},{"c":17,"t":30,"v":28},{"c":17,"t":100,"v":31},{"c":17,"t":300,"v":29.5},{"c":17,"t":1000,"v":27},
{"c":18,"t":0.0027,"v":43.5},{"c":18,"t":0.01,"v":45},{"c":18,"t":0.03,"v":49.5},{"c":18,"t":0.1,"v":51.5},{"c":18,"t":0.3,"v":48},{"c":18,"t":1,"v":40},{"c":18,"t":3,"v":30.5},{"c":18,"t":10,"v":25},{"c":18,"t":30,"v":27},{"c":18,"t":100,"v":30},{"c":18,"t":300,"v":28},{"c":18,"t":1000,"v":25.5},
{"c":19,"t":0.0027,"v":42.5},{"c":19,"t":0.01,"v":44},{"c":19,"t":0.03,"v":48.5},{"c":19,"t":0.1,"v":50.5},{"c":19,"t":0.3,"v":47},{"c":19,"t":1,"v":39},{"c":19,"t":3,"v":30},{"c":19,"t":10,"v":24},{"c":19,"t":30,"v":26},{"c":19,"t":100,"v":29},{"c":19,"t":300,"v":27},{"c":19,"t":1000,"v":24},
{"c":20,"t":0.0027,"v":42},{"c":20,"t":0.01,"v":43},{"c":20,"t":0.03,"v":47.5},{"c":20,"t":0.1,"v":49.5},{"c":20,"t":0.3,"v":46},{"c":20,"t":1,"v":38},{"c":20,"t":3,"v":29},{"c":20,"t":10,"v":23},{"c":20,"t":30,"v":25},{"c":20,"t":100,"v":28},{"c":20,"t":300,"v":25.5},{"c":20,"t":1000,"v":22},
{"c":21,"t":0.0027,"v":41},{"c":21,"t":0.01,"v":42},{"c":21,"t":0.03,"v":46},{"c":21,"t":0.1,"v":48.5},{"c":21,"t":0.3,"v":45},{"c":21,"t":1,"v":37},{"c":21,"t":3,"v":28},{"c":21,"t":10,"v":22},{"c":21,"t":30,"v":24},{"c":21,"t":100,"v":27},{"c":21,"t":300,"v":24},{"c":21,"t":1000,"v":20.5},
{"c":22,"t":0.0027,"v":40.5},{"c":22,"t":0.01,"v":40.5},{"c":22,"t":0.03,"v":45},{"c":22,"t":0.1,"v":47.5},{"c":22,"t":0.3,"v":44},{"c":22,"t":1,"v":36},{"c":22,"t":3,"v":27},{"c":22,"t":10,"v":21},{"c":22,"t":30,"v":23},{"c":22,"t":100,"v":26},{"c":22,"t":300,"v":23},{"c":22,"t":1000,"v":19},
{"c":23,"t":0.0027,"v":40},{"c":23,"t":0.01,"v":39.5},{"c":23,"t":0.03,"v":44},{"c":23,"t":0.1,"v":46.5},{"c":23,"t":0.3,"v":43},{"c":23,"t":1,"v":35.5},{"c":23,"t":3,"v":26.5},{"c":23,"t":10,"v":20.5},{"c":23,"t":30,"v":22.5},{"c":23,"t":100,"v":25},{"c":23,"t":300,"v":21.5},{"c":23,"t":1000,"v":17},
{"c":24,"t":0.0027,"v":39},{"c":24,"t":0.01,"v":38},{"c":24,"t":0.03,"v":43},{"c":24,"t":0.1,"v":45.5},{"c":24,"t":0.3,"v":42},{"c":24,"t":1,"v":35},{"c":24,"t":3,"v":26},{"c":24,"t":10,"v":20},{"c":24,"t":30,"v":21.5},{"c":24,"t":100,"v":24},{"c":24,"t":300,"v":20},{"c":24,"t":1000,"v":15.5}
],
"phaseXYx":[
{"c":1,"t":0.0027,"v":70},{"c":1,"t":0.0055,"v":69},{"c":1,"t":0.01,"v":66},{"c":1,"t":0.03,"v":61},{"c":1,"t":0.1,"v":57},{"c":1,"t":0.3,"v":53},{"c":1,"t":1,"v":46},{"c":1,"t":3,"v":40},{"c":1,"t":10,"v":33},{"c":1,"t":30,"v":30},{"c":1,"t":100,"v":33},{"c":1,"t":300,"v":37},{"c":1,"t":1000,"v":42},
{"c":2,"t":0.0055,"v":61},{"c":2,"t":0.01,"v":65.5},{"c":2,"t":0.03,"v":69.5},{"c":2,"t":0.1,"v":70.3},{"c":2,"t":0.3,"v":65},{"c":2,"t":1,"v":55.5},{"c":2,"t":3,"v":45.5},{"c":2,"t":10,"v":42.8},{"c":2,"t":30,"v":44},{"c":2,"t":100,"v":47.5},{"c":2,"t":300,"v":52},{"c":2,"t":1000,"v":55},
{"c":3,"t":1,"v":60},{"c":3,"t":3,"v":56.5},{"c":3,"t":10,"v":48.5},{"c":3,"t":22,"v":45},{"c":3,"t":30,"v":46},{"c":3,"t":100,"v":51.5},{"c":3,"t":300,"v":55},{"c":3,"t":1000,"v":57},
{"c":4,"t":0.0055,"v":12.2},{"c":4,"t":0.01,"v":17},{"c":4,"t":0.03,"v":25.5},{"c":4,"t":0.1,"v":33},{"c":4,"t":0.2,"v":36.6},{"c":4,"t":0.256,"v":41},{"c":4,"t":0.4,"v":38.4},{"c":4,"t":0.75,"v":36.2},{"c":4,"t":1.17,"v":33.5},{"c":4,"t":2.4,"v":27},{"c":4,"t":3.9,"v":20},{"c":4,"t":5.9,"v":16},{"c":4,"t":10,"v":14},{"c":4,"t":17,"v":15.2},{"c":4,"t":35,"v":19},{"c":4,"t":112,"v":22.8},{"c":4,"t":300,"v":19},{"c":4,"t":600,"v":16},{"c":4,"t":1000,"v":12.5},
{"c":5,"t":0.0027,"v":23.3},{"c":5,"t":0.0045,"v":27.2},{"c":5,"t":0.01,"v":31.7},{"c":5,"t":0.019,"v":35.3},{"c":5,"t":0.03,"v":38},{"c":5,"t":0.1,"v":42},{"c":5,"t":0.3,"v":40},
{"c":6,"t":0.0033,"v":28.8},{"c":6,"t":0.0055,"v":31.3},{"c":6,"t":0.01,"v":34},{"c":6,"t":0.03,"v":40},{"c":6,"t":0.1,"v":42},
{"c":7,"t":0.0027,"v":35.7},{"c":7,"t":0.0045,"v":34},{"c":7,"t":0.0075,"v":33.5},{"c":7,"t":0.013,"v":35},{"c":7,"t":0.019,"v":38},{"c":7,"t":0.04,"v":38.5},{"c":7,"t":0.056,"v":36},{"c":7,"t":0.114,"v":37},{"c":7,"t":0.2,"v":39.7},{"c":7,"t":0.256,"v":41.5},{"c":7,"t":0.28,"v":38.6},{"c":7,"t":0.57,"v":36.6},{"c":7,"t":0.9,"v":36},
{"c":8,"t":0.012,"v":34.4},{"c":8,"t":0.023,"v":34.1},{"c":8,"t":0.036,"v":30.8},{"c":8,"t":0.047,"v":29.7},{"c":8,"t":0.08,"v":30.8},{"c":8,"t":0.15,"v":35},{"c":8,"t":0.256,"v":41.5},
{"c":9,"t":0.0027,"v":38.6},{"c":9,"t":0.0055,"v":38.8},{"c":9,"t":0.01,"v":40},{"c":9,"t":0.018,"v":38.5},
{"c":10,"t":1.17,"v":35},{"c":10,"t":2.4,"v":27.5},{"c":10,"t":5,"v":20},{"c":10,"t":7,"v":18},{"c":10,"t":10,"v":16.5},{"c":10,"t":17,"v":16.8},{"c":10,"t":35,"v":21},{"c":10,"t":100,"v":25}
],
"dotsXY":[{"t":0.0027,"v":32.6},{"t":363,"v":57},{"t":427,"v":59.5},{"t":510,"v":62.5},{"t":620,"v":67},{"t":745,"v":71},{"t":870,"v":74.5},{"t":1000,"v":78}],
"phaseYX":[
{"c":1,"t":0.0027,"v":53},{"c":1,"t":0.01,"v":59},{"c":1,"t":0.03,"v":65},{"c":1,"t":0.1,"v":68},{"c":1,"t":0.3,"v":65},{"c":1,"t":1,"v":52},{"c":1,"t":3,"v":46},{"c":1,"t":10,"v":50},{"c":1,"t":30,"v":52},{"c":1,"t":100,"v":50},{"c":1,"t":300,"v":44},{"c":1,"t":1000,"v":42},
{"c":2,"t":0.0027,"v":52.5},{"c":2,"t":0.01,"v":58},{"c":2,"t":0.03,"v":63.5},{"c":2,"t":0.1,"v":66.5},{"c":2,"t":0.3,"v":63.5},{"c":2,"t":1,"v":51},{"c":2,"t":3,"v":45},{"c":2,"t":10,"v":49},{"c":2,"t":30,"v":51},{"c":2,"t":100,"v":49},{"c":2,"t":300,"v":43},{"c":2,"t":1000,"v":41},
{"c":3,"t":0.0027,"v":52},{"c":3,"t":0.01,"v":57},{"c":3,"t":0.03,"v":62},{"c":3,"t":0.1,"v":65},{"c":3,"t":0.3,"v":62},{"c":3,"t":1,"v":50},{"c":3,"t":3,"v":44},{"c":3,"t":10,"v":48},{"c":3,"t":30,"v":50},{"c":3,"t":100,"v":48},{"c":3,"t":300,"v":42},{"c":3,"t":1000,"v":40},
{"c":4,"t":0.0027,"v":51},{"c":4,"t":0.01,"v":56},{"c":4,"t":0.03,"v":61},{"c":4,"t":0.1,"v":64},{"c":4,"t":0.3,"v":61},{"c":4,"t":1,"v":49},{"c":4,"t":3,"v":43.5},{"c":4,"t":10,"v":47},{"c":4,"t":30,"v":49},{"c":4,"t":100,"v":47},{"c":4,"t":300,"v":41},{"c":4,"t":1000,"v":39},
{"c":5,"t":0.0027,"v":50.5},{"c":5,"t":0.01,"v":55},{"c":5,"t":0.03,"v":59.5},{"c":5,"t":0.1,"v":63},{"c":5,"t":0.3,"v":59.5},{"c":5,"t":1,"v":48},{"c":5,"t":3,"v":42.5},{"c":5,"t":10,"v":46},{"c":5,"t":30,"v":48},{"c":5,"t":100,"v":46},{"c":5,"t":300,"v":40},{"c":5,"t":1000,"v":38},
{"c":6,"t":0.0027,"v":50},{"c":6,"t":0.01,"v":54},{"c":6,"t":0.03,"v":58},{"c":6,"t":0.1,"v":61.5},{"c":6,"t":0.3,"v":58},{"c":6,"t":1,"v":47},{"c":6,"t":3,"v":41.5},{"c":6,"t":10,"v":45},{"c":6,"t":30,"v":47},{"c":6,"t":100,"v":45},{"c":6,"t":300,"v":39},{"c":6,"t":1000,"v":37},
{"c":7,"t":0.0027,"v":49},{"c":7,"t":0.01,"v":52.5},{"c":7,"t":0.03,"v":57},{"c":7,"t":0.1,"v":60},{"c":7,"t":0.3,"v":57},{"c":7,"t":1,"v":46},{"c":7,"t":3,"v":40.5},{"c":7,"t":10,"v":44},{"c":7,"t":30,"v":46},{"c":7,"t":100,"v":44},{"c":7,"t":300,"v":38},{"c":7,"t":1000,"v":36},
{"c":8,"t":0.0027,"v":48.5},{"c":8,"t":0.01,"v":51.5},{"c":8,"t":0.03,"v":55.5},{"c":8,"t":0.1,"v":58.5},{"c":8,"t":0.3,"v":55.5},{"c":8,"t":1,"v":45},{"c":8,"t":3,"v":39.5},{"c":8,"t":10,"v":43},{"c":8,"t":30,"v":45},{"c":8,"t":100,"v":43},{"c":8,"t":300,"v":37},{"c":8,"t":1000,"v":35},
{"c":9,"t":0.0027,"v":48},{"c":9,"t":0.01,"v":50.5},{"c":9,"t":0.03,"v":54},{"c":9,"t":0.1,"v":57},{"c":9,"t":0.3,"v":54},{"c":9,"t":1,"v":44},{"c":9,"t":3,"v":38.5},{"c":9,"t":10,"v":42},{"c":9,"t":30,"v":44},{"c":9,"t":100,"v":42},{"c":9,"t":300,"v":36},{"c":9,"t":1000,"v":34},
{"c":10,"t":0.0027,"v":47},{"c":10,"t":0.01,"v":49.5},{"c":10,"t":0.03,"v":53},{"c":10,"t":0.1,"v":56},{"c":10,"t":0.3,"v":53},{"c":10,"t":1,"v":43},{"c":10,"t":3,"v":37.5},{"c":10,"t":10,"v":41},{"c":10,"t":30,"v":43},{"c":10,"t":100,"v":41},{"c":10,"t":300,"v":35},{"c":10,"t":1000,"v":33},
{"c":11,"t":0.0027,"v":46.5},{"c":11,"t":0.01,"v":48.5},{"c":11,"t":0.03,"v":51.5},{"c":11,"t":0.1,"v":54.5},{"c":11,"t":0.3,"v":51.5},{"c":11,"t":1,"v":42},{"c":11,"t":3,"v":37},{"c":11,"t":10,"v":39.5},{"c":11,"t":30,"v":42},{"c":11,"t":100,"v":40},{"c":11,"t":300,"v":34},{"c":11,"t":1000,"v":32},
{"c":12,"t":0.0027,"v":46},{"c":12,"t":0.01,"v":47},{"c":12,"t":0.03,"v":50},{"c":12,"t":0.1,"v":53},{"c":12,"t":0.3,"v":50},{"c":12,"t":1,"v":41},{"c":12,"t":3,"v":36},{"c":12,"t":10,"v":38.5},{"c":12,"t":30,"v":40.5},{"c":12,"t":100,"v":39},{"c":12,"t":300,"v":33},{"c":12,"t":1000,"v":31},
{"c":13,"t":0.0027,"v":45},{"c":13,"t":0.01,"v":46},{"c":13,"t":0.03,"v":49},{"c":13,"t":0.1,"v":52},{"c":13,"t":0.3,"v":48.5},{"c":13,"t":1,"v":40},{"c":13,"t":3,"v":35},{"c":13,"t":10,"v":37.5},{"c":13,"t":30,"v":39.5},{"c":13,"t":100,"v":38},{"c":13,"t":300,"v":32},{"c":13,"t":1000,"v":30},
{"c":14,"t":0.0027,"v":44.5},{"c":14,"t":0.01,"v":45},{"c":14,"t":0.03,"v":47.5},{"c":14,"t":0.1,"v":50.5},{"c":14,"t":0.3,"v":47},{"c":14,"t":1,"v":39},{"c":14,"t":3,"v":34},{"c":14,"t":10,"v":36.5},{"c":14,"t":30,"v":38.5},{"c":14,"t":100,"v":37},{"c":14,"t":300,"v":31},{"c":14,"t":1000,"v":29},
{"c":15,"t":0.0027,"v":44},{"c":15,"t":0.01,"v":44},{"c":15,"t":0.03,"v":46},{"c":15,"t":0.1,"v":49},{"c":15,"t":0.3,"v":45.5},{"c":15,"t":1,"v":38},{"c":15,"t":3,"v":33},{"c":15,"t":10,"v":35.5},{"c":15,"t":30,"v":37.5},{"c":15,"t":100,"v":36},{"c":15,"t":300,"v":30},{"c":15,"t":1000,"v":28},
{"c":16,"t":0.0027,"v":43},{"c":16,"t":0.01,"v":43},{"c":16,"t":0.03,"v":45},{"c":16,"t":0.1,"v":47.5},{"c":16,"t":0.3,"v":44},{"c":16,"t":1,"v":37},{"c":16,"t":3,"v":32},{"c":16,"t":10,"v":34.5},{"c":16,"t":30,"v":36},{"c":16,"t":100,"v":35},{"c":16,"t":300,"v":29},{"c":16,"t":1000,"v":27},
{"c":17,"t":0.0027,"v":42.5},{"c":17,"t":0.01,"v":42},{"c":17,"t":0.03,"v":43.5},{"c":17,"t":0.1,"v":46},{"c":17,"t":0.3,"v":42.5},{"c":17,"t":1,"v":36},{"c":17,"t":3,"v":31},{"c":17,"t":10,"v":33},{"c":17,"t":30,"v":35},{"c":17,"t":100,"v":34},{"c":17,"t":300,"v":28},{"c":17,"t":1000,"v":26},
{"c":18,"t":0.0027,"v":42},{"c":18,"t":0.01,"v":40.5},{"c":18,"t":0.03,"v":42},{"c":18,"t":0.1,"v":44.5},{"c":18,"t":0.3,"v":41},{"c":18,"t":1,"v":35},{"c":18,"t":3,"v":30},{"c":18,"t":10,"v":32},{"c":18,"t":30,"v":34},{"c":18,"t":100,"v":33},{"c":18,"t":300,"v":27},{"c":18,"t":1000,"v":25},
{"c":19,"t":0.0027,"v":41},{"c":19,"t":0.01,"v":39.5},{"c":19,"t":0.03,"v":41},{"c":19,"t":0.1,"v":43},{"c":19,"t":0.3,"v":40},{"c":19,"t":1,"v":34},{"c":19,"t":3,"v":29},{"c":19,"t":10,"v":31},{"c":19,"t":30,"v":33},{"c":19,"t":100,"v":32},{"c":19,"t":300,"v":26},{"c":19,"t":1000,"v":24},
{"c":20,"t":0.0027,"v":40.5},{"c":20,"t":0.01,"v":38.5},{"c":20,"t":0.03,"v":39.5},{"c":20,"t":0.1,"v":42},{"c":20,"t":0.3,"v":38.5},{"c":20,"t":1,"v":33},{"c":20,"t":3,"v":28.5},{"c":20,"t":10,"v":30},{"c":20,"t":30,"v":32},{"c":20,"t":100,"v":31},{"c":20,"t":300,"v":25.5},{"c":20,"t":1000,"v":23},
{"c":21,"t":0.0027,"v":40},{"c":21,"t":0.01,"v":37.5},{"c":21,"t":0.03,"v":38},{"c":21,"t":0.1,"v":40.5},{"c":21,"t":0.3,"v":37},{"c":21,"t":1,"v":32},{"c":21,"t":3,"v":28},{"c":21,"t":10,"v":29},{"c":21,"t":30,"v":30.5},{"c":21,"t":100,"v":30},{"c":21,"t":300,"v":25},{"c":21,"t":1000,"v":22},
{"c":22,"t":0.0027,"v":39},{"c":22,"t":0.01,"v":36},{"c":22,"t":0.03,"v":36.5},{"c":22,"t":0.1,"v":39},{"c":22,"t":0.3,"v":35.5},{"c":22,"t":1,"v":31},{"c":22,"t":3,"v":27},{"c":22,"t":10,"v":27.5},{"c":22,"t":30,"v":29},{"c":22,"t":100,"v":28.5},{"c":22,"t":300,"v":24},{"c":22,"t":1000,"v":21.5},
{"c":23,"t":0.0027,"v":38.5},{"c":23,"t":0.01,"v":35},{"c":23,"t":0.03,"v":35.5},{"c":23,"t":0.1,"v":37.5},{"c":23,"t":0.3,"v":34},{"c":23,"t":1,"v":30},{"c":23,"t":3,"v":26},{"c":23,"t":10,"v":26},{"c":23,"t":30,"v":27.5},{"c":23,"t":100,"v":27.5},{"c":23,"t":300,"v":23},{"c":23,"t":1000,"v":21},
{"c":24,"t":0.0027,"v":38},{"c":24,"t":0.01,"v":34},{"c":24,"t":0.03,"v":34.5},{"c":24,"t":0.1,"v":36},{"c":24,"t":0.3,"v":33},{"c":24,"t":1,"v":28.5},{"c":24,"t":3,"v":25},{"c":24,"t":10,"v":24.5},{"c":24,"t":30,"v":26},{"c":24,"t":100,"v":26.5},{"c":24,"t":300,"v":22},{"c":24,"t":1000,"v":20}
],
"phaseYXx":[
{"c":1,"t":0.0027,"v":40},{"c":1,"t":0.01,"v":42},{"c":1,"t":0.03,"v":46},{"c":1,"t":0.1,"v":50},{"c":1,"t":0.3,"v":52},{"c":1,"t":1,"v":46},{"c":1,"t":3,"v":43},{"c":1,"t":10,"v":52},{"c":1,"t":30,"v":60.5},{"c":1,"t":100,"v":60.5},{"c":1,"t":300,"v":54.5},{"c":1,"t":1000,"v":50},
{"c":2,"t":0.0027,"v":38},{"c":2,"t":0.01,"v":40},{"c":2,"t":0.03,"v":45},{"c":2,"t":0.1,"v":48},{"c":2,"t":0.3,"v":50},{"c":2,"t":1,"v":45},{"c":2,"t":3,"v":42},{"c":2,"t":10,"v":48},{"c":2,"t":30,"v":58},{"c":2,"t":100,"v":53},{"c":2,"t":300,"v":47.5},{"c":2,"t":1000,"v":48},
{"c":3,"t":0.0027,"v":42},{"c":3,"t":0.01,"v":44},{"c":3,"t":0.03,"v":48},{"c":3,"t":0.1,"v":52},{"c":3,"t":0.3,"v":54},{"c":3,"t":1,"v":48},{"c":3,"t":3,"v":44},{"c":3,"t":10,"v":50},{"c":3,"t":30,"v":54},{"c":3,"t":100,"v":53},{"c":3,"t":300,"v":47.5},{"c":3,"t":1000,"v":40},
{"c":4,"t":0.0027,"v":23},{"c":4,"t":0.01,"v":27.5},{"c":4,"t":0.03,"v":34},{"c":4,"t":0.1,"v":40},{"c":4,"t":0.3,"v":38},{"c":4,"t":1,"v":30},{"c":4,"t":3,"v":26},{"c":4,"t":10,"v":27},{"c":4,"t":30,"v":30},{"c":4,"t":100,"v":29},{"c":4,"t":300,"v":25},{"c":4,"t":1000,"v":21},
{"c":5,"t":0.0027,"v":27.5},{"c":5,"t":0.01,"v":29.5},{"c":5,"t":0.03,"v":35},{"c":5,"t":0.1,"v":38},{"c":5,"t":0.3,"v":35},{"c":5,"t":1,"v":30},
{"c":6,"t":0.0027,"v":32.3},{"c":6,"t":0.0055,"v":33.2},{"c":6,"t":0.01,"v":33},{"c":6,"t":0.03,"v":37},{"c":6,"t":0.1,"v":40},
{"c":7,"t":0.0233,"v":21.4},{"c":7,"t":0.05,"v":24.5},{"c":7,"t":0.1,"v":27},{"c":7,"t":0.154,"v":30.5},
{"c":8,"t":0.0233,"v":29.6},{"c":8,"t":0.05,"v":32},{"c":8,"t":0.1,"v":35},{"c":8,"t":0.3,"v":29.5},{"c":8,"t":1,"v":24.5},{"c":8,"t":3,"v":24.8},{"c":8,"t":10,"v":24},{"c":8,"t":30,"v":26},{"c":8,"t":100,"v":26},{"c":8,"t":300,"v":22.5},{"c":8,"t":1000,"v":20},
{"c":9,"t":0.1,"v":36},{"c":9,"t":0.3,"v":31},{"c":9,"t":0.62,"v":24.6},{"c":9,"t":1,"v":21.8},{"c":9,"t":1.67,"v":20.2},{"c":9,"t":3,"v":21.3},{"c":9,"t":4.9,"v":23},{"c":9,"t":10,"v":23.5},{"c":9,"t":30,"v":25},{"c":9,"t":100,"v":26},{"c":9,"t":300,"v":23},{"c":9,"t":1000,"v":19}
]
},
"columns":2,"spacing":59,"bounds":"flush",
"concat":[
{"width":858,"height":1335,
"encoding":{"x":{"field":"t","type":"quantitative","title":null,"scale":{"type":"log","domain":[0.001,1000]},"axis":{"values":[0.001,0.002,0.003,0.004,0.005,0.006,0.007,0.008,0.009,0.01,0.02,0.03,0.04,0.05,0.06,0.07,0.08,0.09,0.1,0.2,0.3,0.4,0.5,0.6,0.7,0.8,0.9,1,2,3,4,5,6,7,8,9,10,20,30,40,50,60,70,80,90,100,200,300,400,500,600,700,800,900,1000],"labels":false,"grid":true,"gridColor":{"condition":{"test":"abs(log(datum.value)/LN10-round(log(datum.value)/LN10))<1e-6","value":"#bdbdbd"},"value":"#d6d6d6"},"gridWidth":1.5,"tickSize":{"condition":{"test":"abs(log(datum.value)/LN10-round(log(datum.value)/LN10))<1e-6","value":19},"value":10},"tickWidth":{"condition":{"test":"abs(log(datum.value)/LN10-round(log(datum.value)/LN10))<1e-6","value":3},"value":2}}},
"y":{"field":"v","type":"quantitative","title":"ρₐₚₚ (Ωm)","scale":{"type":"log","domain":[0.0086,12880]},"axis":{"titleFontSize":38,"titlePadding":4,"values":[0.009,0.01,0.02,0.03,0.04,0.05,0.06,0.07,0.08,0.09,0.1,0.2,0.3,0.4,0.5,0.6,0.7,0.8,0.9,1,2,3,4,5,6,7,8,9,10,20,30,40,50,60,70,80,90,100,200,300,400,500,600,700,800,900,1000,2000,3000,4000,5000,6000,7000,8000,9000,10000],"labelExpr":"datum.value==0.01?'10⁻²':datum.value==0.1?'10⁻¹':datum.value==1?'10⁰':datum.value==10?'10¹':datum.value==100?'10²':datum.value==1000?'10³':datum.value==10000?'10⁴':''","grid":true,"gridColor":{"condition":{"test":"abs(log(datum.value)/LN10-round(log(datum.value)/LN10))<1e-6","value":"#bdbdbd"},"value":"#d6d6d6"},"gridWidth":1.5,"tickSize":{"condition":{"test":"abs(log(datum.value)/LN10-round(log(datum.value)/LN10))<1e-6","value":19},"value":10},"tickWidth":{"condition":{"test":"abs(log(datum.value)/LN10-round(log(datum.value)/LN10))<1e-6","value":3},"value":2}}}},
"layer":[
{"data":{"name":"rhoXY"},"transform":[{"filter":"datum.c<16||datum.c>=30"}],"mark":{"type":"line","color":"#ff0000","strokeWidth":16,"strokeCap":"round","strokeJoin":"round","strokeDash":[0.01,9],"interpolate":"monotone","clip":true},"encoding":{"detail":{"field":"c"}}},
{"data":{"name":"rhoXY"},"transform":[{"filter":"datum.c>=16&&datum.c<30"}],"mark":{"type":"line","color":"#ff0000","strokeWidth":17.5,"strokeCap":"round","strokeJoin":"round","interpolate":"monotone","clip":true},"encoding":{"detail":{"field":"c"}}},
{"data":{"name":"box"},"mark":{"type":"rect","fill":"white","stroke":"black","strokeWidth":4},"encoding":{"x2":{"field":"t2"},"y2":{"field":"v2"}}},
{"data":{"name":"zxy"},"mark":{"type":"text","align":"left","baseline":"alphabetic","font":"DejaVu Sans","fontStyle":"italic","fontSize":37,"color":"black"},"encoding":{"text":{"field":"label"}}},
{"data":{"name":"subxy"},"mark":{"type":"text","align":"left","baseline":"alphabetic","font":"DejaVu Sans","fontStyle":"italic","fontSize":26,"color":"black"},"encoding":{"text":{"field":"label"}}},
{"data":{"name":"art"},"mark":{"type":"point","filled":true,"fill":"white","stroke":"#d8d8d8","strokeWidth":3,"size":260,"opacity":1,"clip":false}}
]},
{"width":858,"height":1335,
"encoding":{"x":{"field":"t","type":"quantitative","title":null,"scale":{"type":"log","domain":[0.001,1000]},"axis":{"values":[0.001,0.002,0.003,0.004,0.005,0.006,0.007,0.008,0.009,0.01,0.02,0.03,0.04,0.05,0.06,0.07,0.08,0.09,0.1,0.2,0.3,0.4,0.5,0.6,0.7,0.8,0.9,1,2,3,4,5,6,7,8,9,10,20,30,40,50,60,70,80,90,100,200,300,400,500,600,700,800,900,1000],"labels":false,"grid":true,"gridColor":{"condition":{"test":"abs(log(datum.value)/LN10-round(log(datum.value)/LN10))<1e-6","value":"#bdbdbd"},"value":"#d6d6d6"},"gridWidth":1.5,"tickSize":{"condition":{"test":"abs(log(datum.value)/LN10-round(log(datum.value)/LN10))<1e-6","value":19},"value":10},"tickWidth":{"condition":{"test":"abs(log(datum.value)/LN10-round(log(datum.value)/LN10))<1e-6","value":3},"value":2}}},
"y":{"field":"v","type":"quantitative","title":null,"scale":{"type":"log","domain":[0.0086,12880]},"axis":{"labels":false,"values":[0.009,0.01,0.02,0.03,0.04,0.05,0.06,0.07,0.08,0.09,0.1,0.2,0.3,0.4,0.5,0.6,0.7,0.8,0.9,1,2,3,4,5,6,7,8,9,10,20,30,40,50,60,70,80,90,100,200,300,400,500,600,700,800,900,1000,2000,3000,4000,5000,6000,7000,8000,9000,10000],"grid":true,"gridColor":{"condition":{"test":"abs(log(datum.value)/LN10-round(log(datum.value)/LN10))<1e-6","value":"#bdbdbd"},"value":"#d6d6d6"},"gridWidth":1.5,"tickSize":{"condition":{"test":"abs(log(datum.value)/LN10-round(log(datum.value)/LN10))<1e-6","value":19},"value":10},"tickWidth":{"condition":{"test":"abs(log(datum.value)/LN10-round(log(datum.value)/LN10))<1e-6","value":3},"value":2}}}},
"layer":[
{"data":{"name":"rhoYX"},"transform":[{"filter":"datum.c<16||datum.c==28"}],"mark":{"type":"line","color":"#0000ff","strokeWidth":16,"strokeCap":"round","strokeJoin":"round","strokeDash":[0.01,9],"interpolate":"monotone","clip":true},"encoding":{"detail":{"field":"c"}}},
{"data":{"name":"rhoYX"},"transform":[{"filter":"datum.c>=16&&datum.c<28"}],"mark":{"type":"line","color":"#0000ff","strokeWidth":18,"strokeCap":"round","strokeJoin":"round","interpolate":"monotone","clip":true},"encoding":{"detail":{"field":"c"}}},
{"data":{"name":"box"},"mark":{"type":"rect","fill":"white","stroke":"black","strokeWidth":4},"encoding":{"x2":{"field":"t2"},"y2":{"field":"v2"}}},
{"data":{"name":"zxy"},"mark":{"type":"text","align":"left","baseline":"alphabetic","font":"DejaVu Sans","fontStyle":"italic","fontSize":37,"color":"black"},"encoding":{"text":{"field":"label"}}},
{"data":{"name":"subyx"},"mark":{"type":"text","align":"left","baseline":"alphabetic","font":"DejaVu Sans","fontStyle":"italic","fontSize":26,"color":"black"},"encoding":{"text":{"field":"label"}}},
{"data":{"name":"art"},"mark":{"type":"point","filled":true,"fill":"white","stroke":"#d8d8d8","strokeWidth":3,"size":260,"opacity":1,"clip":false}}
]},
{"width":858,"height":1002,
"encoding":{"x":{"field":"t","type":"quantitative","title":"Period(s)","scale":{"type":"log","domain":[0.001,1000]},"axis":{"labelPadding":20,"titlePadding":26,"values":[0.001,0.002,0.003,0.004,0.005,0.006,0.007,0.008,0.009,0.01,0.02,0.03,0.04,0.05,0.06,0.07,0.08,0.09,0.1,0.2,0.3,0.4,0.5,0.6,0.7,0.8,0.9,1,2,3,4,5,6,7,8,9,10,20,30,40,50,60,70,80,90,100,200,300,400,500,600,700,800,900,1000],"labelExpr":"datum.value==0.001?'10⁻³':datum.value==0.01?'10⁻²':datum.value==0.1?'10⁻¹':datum.value==1?'10⁰':datum.value==10?'10¹':datum.value==100?'10²':datum.value==1000?'10³':''","grid":true,"gridColor":{"condition":{"test":"abs(log(datum.value)/LN10-round(log(datum.value)/LN10))<1e-6","value":"#bdbdbd"},"value":"#d6d6d6"},"gridWidth":1.5,"tickSize":{"condition":{"test":"abs(log(datum.value)/LN10-round(log(datum.value)/LN10))<1e-6","value":19},"value":10},"tickWidth":{"condition":{"test":"abs(log(datum.value)/LN10-round(log(datum.value)/LN10))<1e-6","value":3},"value":2}}},
"y":{"field":"v","type":"quantitative","title":"Phase(deg)","scale":{"domain":[0,90]},"axis":{"titlePadding":22,"labelPadding":20,"values":[0,5,10,15,20,25,30,35,40,45,50,55,60,65,70,75,80,85],"labelExpr":"datum.value%15==0?datum.label:''","grid":true,"gridColor":"#c8c8c8","gridWidth":1.5,"tickSize":{"condition":{"test":"datum.value%15==0","value":19},"value":10},"tickWidth":{"condition":{"test":"datum.value%15==0","value":3},"value":2}}}},
"layer":[
{"data":{"name":"phaseXY"},"mark":{"type":"line","color":"#ff0000","strokeWidth":15,"strokeCap":"round","strokeJoin":"round","interpolate":"monotone","clip":true},"encoding":{"detail":{"field":"c"}}},
{"data":{"name":"phaseXYx"},"mark":{"type":"line","color":"#ff0000","strokeWidth":15,"strokeCap":"round","strokeJoin":"round","strokeDash":[0.01,13],"interpolate":"monotone","clip":true},"encoding":{"detail":{"field":"c"}}},
{"data":{"name":"dotsXY"},"mark":{"type":"circle","color":"#ff0000","size":177,"opacity":1,"clip":true}}
]},
{"width":858,"height":1002,
"encoding":{"x":{"field":"t","type":"quantitative","title":"Period(s)","scale":{"type":"log","domain":[0.001,1000]},"axis":{"labelPadding":20,"titlePadding":26,"labelOffset":{"condition":{"test":"datum.value==0.001","value":24},"value":0},"values":[0.001,0.002,0.003,0.004,0.005,0.006,0.007,0.008,0.009,0.01,0.02,0.03,0.04,0.05,0.06,0.07,0.08,0.09,0.1,0.2,0.3,0.4,0.5,0.6,0.7,0.8,0.9,1,2,3,4,5,6,7,8,9,10,20,30,40,50,60,70,80,90,100,200,300,400,500,600,700,800,900,1000],"labelExpr":"datum.value==0.001?'10⁻³':datum.value==0.01?'10⁻²':datum.value==0.1?'10⁻¹':datum.value==1?'10⁰':datum.value==10?'10¹':datum.value==100?'10²':datum.value==1000?'10³':''","grid":true,"gridColor":{"condition":{"test":"abs(log(datum.value)/LN10-round(log(datum.value)/LN10))<1e-6","value":"#bdbdbd"},"value":"#d6d6d6"},"gridWidth":1.5,"tickSize":{"condition":{"test":"abs(log(datum.value)/LN10-round(log(datum.value)/LN10))<1e-6","value":19},"value":10},"tickWidth":{"condition":{"test":"abs(log(datum.value)/LN10-round(log(datum.value)/LN10))<1e-6","value":3},"value":2}}},
"y":{"field":"v","type":"quantitative","title":null,"scale":{"domain":[0,90]},"axis":{"labels":false,"values":[0,5,10,15,20,25,30,35,40,45,50,55,60,65,70,75,80,85],"grid":true,"gridColor":"#c8c8c8","gridWidth":1.5,"tickSize":{"condition":{"test":"datum.value%15==0","value":19},"value":10},"tickWidth":{"condition":{"test":"datum.value%15==0","value":3},"value":2}}}},
"layer":[
{"data":{"name":"phaseYX"},"mark":{"type":"line","color":"#0000ff","strokeWidth":15,"strokeCap":"round","strokeJoin":"round","interpolate":"monotone","clip":true},"encoding":{"detail":{"field":"c"}}},
{"data":{"name":"phaseYXx"},"mark":{"type":"line","color":"#0000ff","strokeWidth":15,"strokeCap":"round","strokeJoin":"round","strokeDash":[0.01,13],"interpolate":"monotone","clip":true},"encoding":{"detail":{"field":"c"}}}
]}
]}
